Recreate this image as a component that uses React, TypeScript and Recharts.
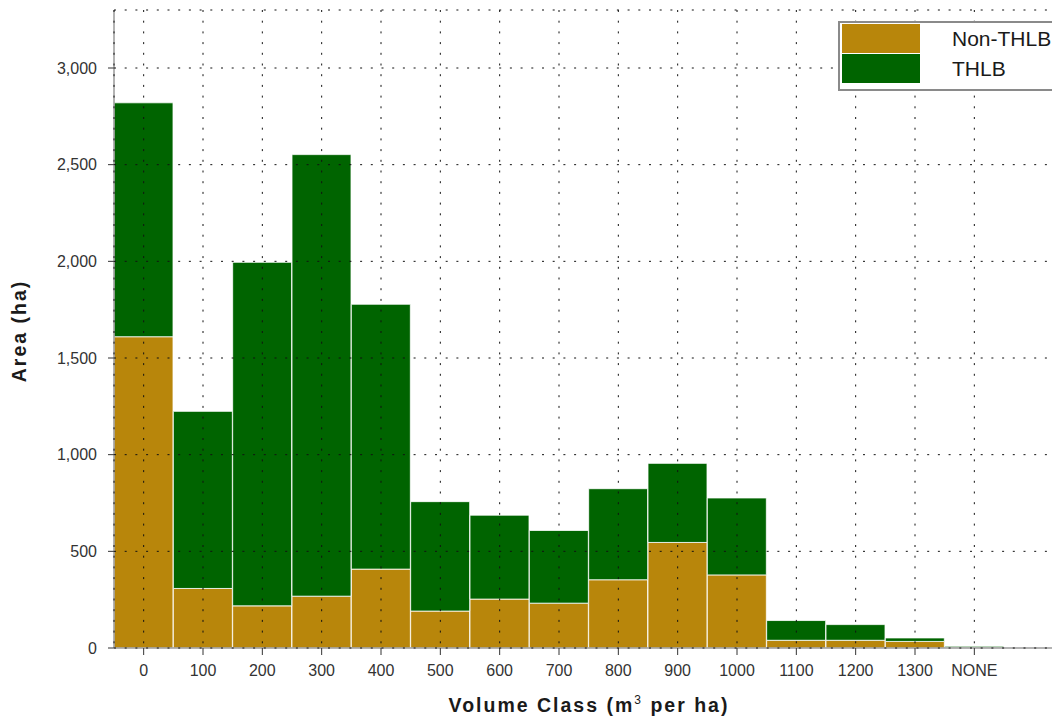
import React from "react";
import { BarChart, Bar, XAxis, YAxis, CartesianGrid, Legend } from "recharts";

// volume classes (m3 per ha) and stacked areas (ha)
const volumeClasses = ["0", "100", "200", "300", "400", "500", "600", "700", "800", "900", "1000", "1100", "1200", "1300", "NONE"];
const nonThlbArea = [1610, 308, 218, 268, 408, 191, 253, 232, 353, 546, 378, 40, 40, 34, 3];
const thlbArea = [1210, 916, 1777, 2284, 1370, 566, 434, 376, 471, 409, 398, 102, 81, 18, 6];
const areaTicks = [0, 500, 1000, 1500, 2000, 2500, 3000];

const NON_THLB = "#B8860B";
const THLB = "#006400";

const data = volumeClasses.map((cls, i) => ({
  cls,
  nonThlb: nonThlbArea[i],
  thlb: thlbArea[i],
}));

const fmt = (v: number) => v.toLocaleString("en-US");

function XTitle(props: any) {
  const vb = props.viewBox || { x: 106, y: 640 };
  return (
    <text
      x={vb.x + 475}
      y={vb.y + 64}
      textAnchor="middle"
      fontSize={19.5}
      fontWeight="bold"
      letterSpacing={2}
      fill="#1a1a1a"
    >
      <tspan>Volume Class (m</tspan>
      <tspan dy={-8} fontSize={12} fontWeight="normal">3</tspan>
      <tspan dy={8}> per ha)</tspan>
    </text>
  );
}

function YTitle(props: any) {
  const vb = props.viewBox || { x: 0, y: 2, height: 638 };
  const cx = vb.x + 18;
  const cy = vb.y + vb.height / 2 + 2;
  return (
    <text
      x={cx}
      y={cy}
      transform={`rotate(-90, ${cx}, ${cy})`}
      textAnchor="middle"
      fontSize={19.5}
      fontWeight="bold"
      letterSpacing={2}
      fill="#1a1a1a"
    >
      Area (ha)
    </text>
  );
}

function LegendBox({ payload }: any) {
  return (
    <div
      style={{
        border: "2px solid #8a8a8a",
        background: "#fff",
        padding: "1px 2px 5px 2px",
        width: 236,
      }}
    >
      {(payload || []).map((p: any) => (
        <div key={p.value} style={{ display: "flex", alignItems: "center", height: 30 }}>
          <div style={{ width: 78, height: 29, background: p.color, flex: "none" }} />
          <span style={{ marginLeft: 32, fontSize: 21, color: "#1a1a1a" }}>{p.value}</span>
        </div>
      ))}
    </div>
  );
}

export default function App() {
  return (
    <div
      style={{
        width: 1052,
        height: 720,
        overflow: "hidden",
        fontFamily: "'Liberation Sans', Arial, sans-serif",
      }}
    >
      <BarChart
        width={1080}
        height={720}
        data={data}
        margin={{ top: 2, right: 16, bottom: 30, left: 0 }}
        barCategoryGap={0}
        barGap={0}
      >
        <XAxis
          dataKey="cls"
          interval={0}
          height={50}
          padding={{ left: 0, right: 68 }}
          tickSize={7}
          tickMargin={10}
          axisLine={{ stroke: "#9a9a9a", strokeWidth: 1.5 }}
          tickLine={{ stroke: "#333" }}
          tick={{ fill: "#333", fontSize: 16 }}
          label={XTitle}
        />
        <XAxis
          xAxisId="top"
          orientation="top"
          dataKey="cls"
          interval={0}
          height={0}
          padding={{ left: 0, right: 68 }}
          tick={false}
          tickSize={5}
          axisLine={{ stroke: "#9a9a9a", strokeWidth: 1.5 }}
          tickLine={{ stroke: "#333" }}
        />
        <YAxis
          type="number"
          domain={[0, 3300]}
          ticks={areaTicks}
          width={106}
          tickSize={6}
          tickMargin={11}
          tickFormatter={fmt}
          axisLine={{ stroke: "#9a9a9a", strokeWidth: 1.5 }}
          tickLine={{ stroke: "#333" }}
          tick={{ fill: "#333", fontSize: 16 }}
          label={YTitle}
        />
        <Bar dataKey="nonThlb" name="Non-THLB" stackId="a" fill={NON_THLB} stroke="#fff" strokeWidth={0.8} isAnimationActive={false} />
        <Bar dataKey="thlb" name="THLB" stackId="a" fill={THLB} stroke="#fff" strokeWidth={0.8} isAnimationActive={false} />
        <CartesianGrid stroke="#111" strokeDasharray="2 8.7" {...({ zIndex: 1000 } as any)} />
        <Legend
          layout="vertical"
          align="center"
          verticalAlign="middle"
          wrapperStyle={{ top: 12.7, left: 830, width: "auto" }}
          content={LegendBox}
        />
      </BarChart>
    </div>
  );
}
